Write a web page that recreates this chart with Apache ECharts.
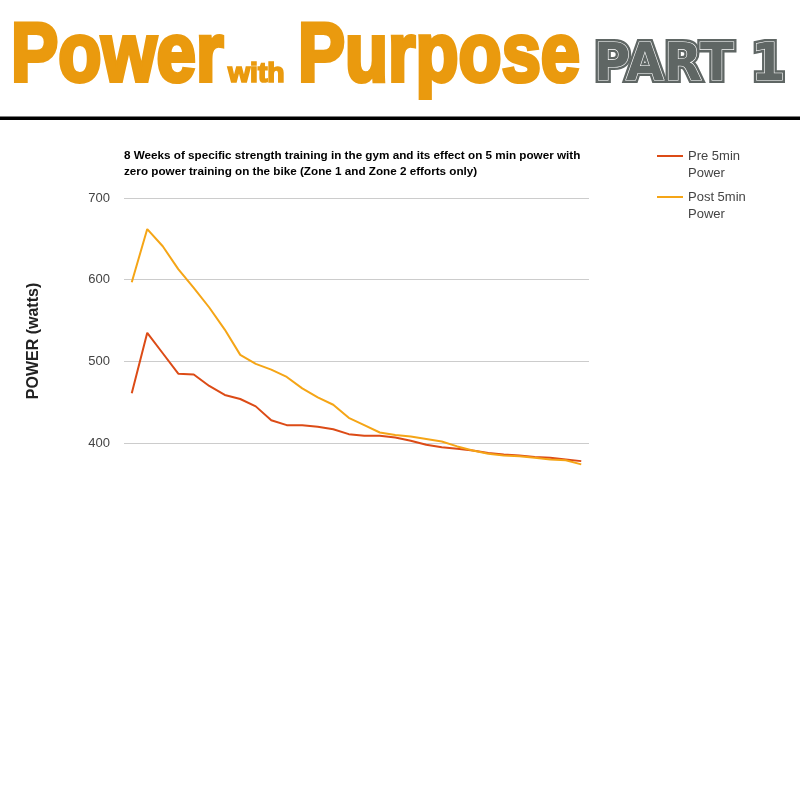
<!DOCTYPE html>
<html>
<head>
<meta charset="utf-8">
<script src="https://cdn.jsdelivr.net/npm/echarts@6/dist/echarts.min.js"></script>
<style>html,body{margin:0;padding:0;background:#fff}#c{width:800px;height:800px}</style>
</head>
<body>
<div id="c"></div>
<script>
const categories = ['1','2','3','4','5','6','7','8','9','10','11','12','13','14','15','16','17','18','19','20','21','22','23','24','25','26','27','28','29','30'];
const prePower = [461,535,510,485,484,470,459,454,445,428,422,422,420,417,411,409,409,407,403,398,395,393,391,388,386,385,383,382,380,378];
const postPower = [597,662,641,613,590,566,539,508,497,490,481,467,456,447,431,422,413,410,408,405,402,396,391,387,385,384,382,380,379,374];
const yTickLabels = ['400','500','600','700'];
const seriesNames = ['Pre 5min Power', 'Post 5min Power'];
const chartTitle = '8 Weeks of specific strength training in the gym and its effect on 5 min power with\nzero power training on the bike (Zone 1 and Zone 2 efforts only)';

const ORANGE = '#EA9A0E';
const GREY = '#5f6664';
const chart = echarts.init(document.getElementById('c'));
chart.setOption({
  animation: false,
  backgroundColor: '#fff',
  textStyle: { fontFamily: '"Liberation Sans", Arial, sans-serif' },
  title: {
    text: chartTitle,
    left: 124, top: 148, padding: 0,
    textStyle: { fontSize: 11.7, fontWeight: 'bold', color: '#000', lineHeight: 16 }
  },
  legend: {
    orient: 'vertical', left: 657, top: 130.5, padding: 0, itemGap: -10,
    icon: 'rect', itemWidth: 26, itemHeight: 2,
    formatter: n => ' \n' + n.replace(' Power', '\nPower'),
    textStyle: { fontSize: 13, color: '#444', lineHeight: 17 },
    data: seriesNames
  },
  grid: { left: 124, right: 211, top: 198, height: 286, containLabel: false },
  xAxis: {
    type: 'category', data: categories, boundaryGap: true,
    axisLine: { show: false }, axisTick: { show: false }, axisLabel: { show: false }
  },
  yAxis: {
    type: 'value', min: 350, max: 700, interval: 50,
    name: 'POWER (watts)', nameLocation: 'middle', nameGap: 82, nameRotate: 90,
    nameTextStyle: { fontSize: 16, fontWeight: 'bold', color: '#222' },
    axisLine: { show: false }, axisTick: { show: false },
    axisLabel: {
      margin: 14, fontSize: 13, color: '#444',
      formatter: v => yTickLabels.indexOf(String(v)) >= 0 ? String(v) : ''
    },
    splitLine: { lineStyle: { color: ['rgba(0,0,0,0)', '#cccccc'], width: 1 } }
  },
  series: [
    { name: seriesNames[0], type: 'line', data: prePower, showSymbol: false, lineStyle: { width: 2, color: '#dc4b16' }, itemStyle: { color: '#dc4b16' } },
    { name: seriesNames[1], type: 'line', data: postPower, showSymbol: false, lineStyle: { width: 2, color: '#f5a516' }, itemStyle: { color: '#f5a516' } }
  ],
  graphic: [
    { type: 'text', x: 11, y: 16, scaleX: 1.18, scaleY: 1.386,
      style: { text: 'Power', font: 'bold 60px "Liberation Sans"', fill: ORANGE, stroke: ORANGE, lineWidth: 3, verticalAlign: 'top' } },
    { type: 'text', x: 228, y: 60, scaleX: 1.18, scaleY: 1.16,
      style: { text: 'with', font: 'bold 24px "Liberation Sans"', fill: ORANGE, stroke: ORANGE, lineWidth: 1.5, verticalAlign: 'top' } },
    { type: 'text', x: 298, y: 16, scaleX: 1.175, scaleY: 1.386,
      style: { text: 'Purpose', font: 'bold 60px "Liberation Sans"', fill: ORANGE, stroke: ORANGE, lineWidth: 3, verticalAlign: 'top' } },
    { type: 'text', x: 594, y: 41, scaleX: 0.99, scaleY: 1.02,
      style: { text: 'PART 1', font: 'bold 50px "DejaVu Sans"', fill: GREY, stroke: GREY, lineWidth: 6, verticalAlign: 'top' } },
    { type: 'text', x: 594, y: 41, scaleX: 0.99, scaleY: 1.02,
      style: { text: 'PART 1', font: 'bold 50px "DejaVu Sans"', fill: GREY, stroke: '#ffffff', lineWidth: 1.2, verticalAlign: 'top' } },
    { type: 'rect', shape: { x: 0, y: 116.5, width: 800, height: 3.5 }, style: { fill: '#000' } }
  ]
});
</script>
</body>
</html>
